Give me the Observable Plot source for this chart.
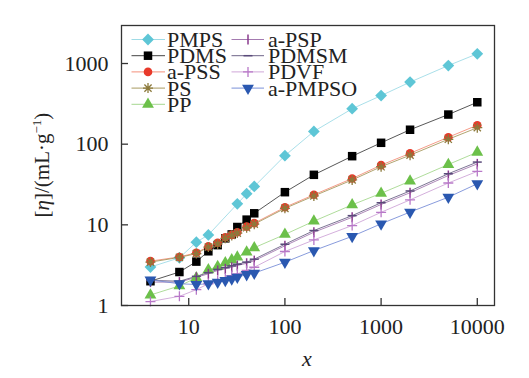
<!DOCTYPE html>
<html><head><meta charset="utf-8">
<script src="https://cdn.jsdelivr.net/npm/d3@7"></script>
<script src="https://cdn.jsdelivr.net/npm/@observablehq/plot@0.6"></script>
<style>
body{margin:0;background:#fff;}
#wrap{position:relative;width:529px;height:378px;}
</style></head><body><div id="wrap"></div>
<script>
// ---- data ----
const xSmall = [4, 8, 12, 16, 20, 24, 28, 32, 40, 48];
const xLarge = [100, 200, 500, 1000, 2000, 5000, 10000];
const xAll = xSmall.concat(xLarge);
const xPMPS = [4, 8, 12, 16, 32, 40, 48].concat(xLarge);

const seriesNames = ["PMPS", "PDMS", "a-PSS", "PS", "PP", "a-PSP", "PDMSM", "PDVF", "a-PMPSO"];

const yPMPS   = [3.0, 3.9, 6.1, 7.5, 18.2, 24.3, 29.9, 72, 144, 275, 400, 588, 944, 1320];
const yPDMS   = [2.0, 2.6, 3.5, 4.7, 5.6, 6.8, 7.6, 9.4, 11.6, 13.9, 25.4, 41.7, 71, 104, 151, 233, 331];
const yaPSS   = [3.55, 4.0, 4.5, 5.4, 6.0, 7.0, 7.5, 8.1, 9.5, 10.5, 16.5, 23.6, 37.5, 55, 77, 122, 172];
const yPS     = [3.45, 3.95, 4.4, 5.3, 5.8, 6.8, 7.4, 7.9, 9.2, 10.2, 16, 22.8, 36, 52.5, 73, 115, 160];
const yPP     = [1.35, 1.75, 2.2, 2.77, 3.04, 3.38, 3.68, 3.97, 4.58, 5.2, 7.6, 11.1, 17.7, 24.6, 34.8, 56, 79.5];
const yaPSP   = [1.95, 1.95, 2.24, 2.47, 2.72, 2.85, 2.98, 3.13, 3.34, 3.6, 5.5, 8.1, 12.4, 17.9, 25, 40.9, 57];
const yPDMSM  = [2.05, 2.0, 2.3, 2.55, 2.8, 2.95, 3.1, 3.25, 3.45, 3.75, 5.75, 8.5, 13, 18.8, 26.3, 43, 60];
const yPDVF   = [1.12, 1.3, 1.57, 1.86, 2.04, 2.2, 2.35, 2.47, 2.72, 2.98, 4.67, 6.5, 9.8, 14.3, 20.4, 33, 46];
const yaPMPSO = [2.08, 1.86, 1.82, 1.86, 1.95, 2.04, 2.14, 2.24, 2.42, 2.52, 3.44, 4.8, 7.2, 10.3, 14.4, 22, 32.3];

const xTicks = [10, 100, 1000, 10000];
const yTicks = [1, 10, 100, 1000];

// ---- custom symbols ----
const rad = s => Math.sqrt(s / Math.PI);
const symVBar = {draw(c, s){ const r = rad(s); c.moveTo(0, -r); c.lineTo(0, r); }};
const symHBar = {draw(c, s){ const r = rad(s); c.moveTo(-r, 0); c.lineTo(r, 0); }};
const symPlus = {draw(c, s){ const r = rad(s); c.moveTo(-r, 0); c.lineTo(r, 0); c.moveTo(0, -r); c.lineTo(0, r); }};
const symStar = {draw(c, s){ const r = rad(s); const d = r * 0.72;
  c.moveTo(-r, 0); c.lineTo(r, 0); c.moveTo(0, -r); c.lineTo(0, r);
  c.moveTo(-d, -d); c.lineTo(d, d); c.moveTo(-d, d); c.lineTo(d, -d); }};

const styles = {
  "PMPS":    {xs: xPMPS, ys: yPMPS,   line: "#9fdbe6", symbol: d3.symbolDiamond2, r: 5.3, fill: "#5ec6d6", stroke: "none"},
  "PDMS":    {xs: xAll,  ys: yPDMS,   line: "#444444", symbol: d3.symbolSquare,   r: 4.8, fill: "#000000", stroke: "none"},
  "a-PSS":   {xs: xAll,  ys: yaPSS,   line: "#f4907a", symbol: d3.symbolCircle,   r: 4.3, fill: "#e8392a", stroke: "none"},
  "PS":      {xs: xAll,  ys: yPS,     line: "#a89a60", symbol: symStar,           r: 5.0, fill: "none", stroke: "#8c7a3c", sw: 1.3},
  "PP":      {xs: xAll,  ys: yPP,     line: "#a6d890", symbol: d3.symbolTriangle, r: 4.4, fill: "#6cc04a", stroke: "none"},
  "a-PSP":   {xs: xAll,  ys: yaPSP,   line: "#a47ab0", symbol: symVBar,           r: 5.0, fill: "none", stroke: "#8a3a8e", sw: 1.5},
  "PDMSM":   {xs: xAll,  ys: yPDMSM,  line: "#6e6488", symbol: symHBar,           r: 4.5, fill: "none", stroke: "#5a4a7a", sw: 1.5},
  "PDVF":    {xs: xAll,  ys: yPDVF,   line: "#cfa6d8", symbol: symPlus,           r: 5.0, fill: "none", stroke: "#b878c8", sw: 1.3},
  "a-PMPSO": {xs: xAll,  ys: yaPMPSO, line: "#7a90d8", symbol: d3.symbolTriangle, r: 4.4, fill: "#2a58b0", stroke: "none", rotate: 180}
};

const rows = seriesNames.map(name => styles[name].xs.map((x, i) => ({series: name, x, y: styles[name].ys[i]})));

const lineMarks = seriesNames.map((name, k) =>
  Plot.line(rows[k], {x: "x", y: "y", stroke: styles[name].line, strokeWidth: 0.9}));
const dotMarks = seriesNames.map((name, k) => {
  const s = styles[name];
  return Plot.dot(rows[k], {x: "x", y: "y", symbol: s.symbol, r: s.r, fill: s.fill, stroke: s.stroke,
    strokeWidth: s.sw || 1, rotate: s.rotate || 0});
});

const FONT = "Liberation Serif, Times New Roman, serif";

const chart = Plot.plot({
  width: 529, height: 378,
  marginLeft: 121, marginRight: 35, marginTop: 25, marginBottom: 73,
  style: {fontFamily: FONT, fontSize: "22px", color: "#222", background: "#fff"},
  x: {type: "log", domain: [2, 15100]},
  y: {type: "log", domain: [1, 2960]},
  marks: [
    ...lineMarks,
    ...dotMarks,
    Plot.frame({stroke: "#333", strokeWidth: 1.3}),
    Plot.axisX(xTicks, {tickSize: -7, fill: "none", stroke: "#333", strokeWidth: 1.3, label: null}),
    Plot.axisX(xTicks, {tickSize: 0, tickPadding: 13, tickFormat: d3.format("d"), label: null, fill: "#222"}),
    Plot.axisY(yTicks, {tickSize: -7, fill: "none", stroke: "#333", strokeWidth: 1.3, label: null}),
    Plot.axisY(yTicks, {tickSize: 0, tickPadding: 13, tickFormat: d3.format("d"), label: null, fill: "#222"})
  ]
});
document.getElementById("wrap").appendChild(chart);

// ---- legend & axis titles (text overlay) ----
const svg = d3.select(chart);
const leg = svg.append("g").attr("font-family", FONT).attr("font-size", 22).attr("fill", "#222").attr("text-anchor", "start");
const cols = [{x0: 131.5, xm: 148, x1: 165, xt: 167}, {x0: 231.5, xm: 248, x1: 264, xt: 268}];
seriesNames.forEach((name, i) => {
  const col = i < 5 ? cols[0] : cols[1];
  const row = i < 5 ? i : i - 5;
  const y = 39.5 + row * 16.2;
  const s = styles[name];
  const g = leg.append("g");
  g.append("line").attr("x1", col.x0).attr("x2", col.x1).attr("y1", y).attr("y2", y).attr("stroke", s.line).attr("stroke-width", 1);
  g.append("path").attr("d", d3.symbol(s.symbol, Math.PI * s.r * s.r)())
    .attr("transform", `translate(${col.xm},${y}) rotate(${s.rotate || 0})`)
    .attr("fill", s.fill).attr("stroke", s.stroke).attr("stroke-width", s.sw || 1);
  g.append("text").attr("x", col.xt).attr("y", y + 7.5).attr("text-anchor", "start").text(name);
});

const yl = svg.append("text").attr("font-family", FONT).attr("font-size", 21)
  .attr("fill", "#222").attr("text-anchor", "middle").attr("transform", "translate(49,165) rotate(-90)");
yl.append("tspan").text("[");
yl.append("tspan").attr("font-style", "italic").text("η");
yl.append("tspan").text("]/(mL·g");
yl.append("tspan").attr("font-size", 13).attr("dy", -8).text("−1");
yl.append("tspan").attr("dy", 8).text(")");

svg.append("text").attr("font-family", FONT).attr("font-size", 22)
  .attr("font-style", "italic").attr("fill", "#222").attr("text-anchor", "middle")
  .attr("x", 307).attr("y", 366).text("x");
</script></body></html>
